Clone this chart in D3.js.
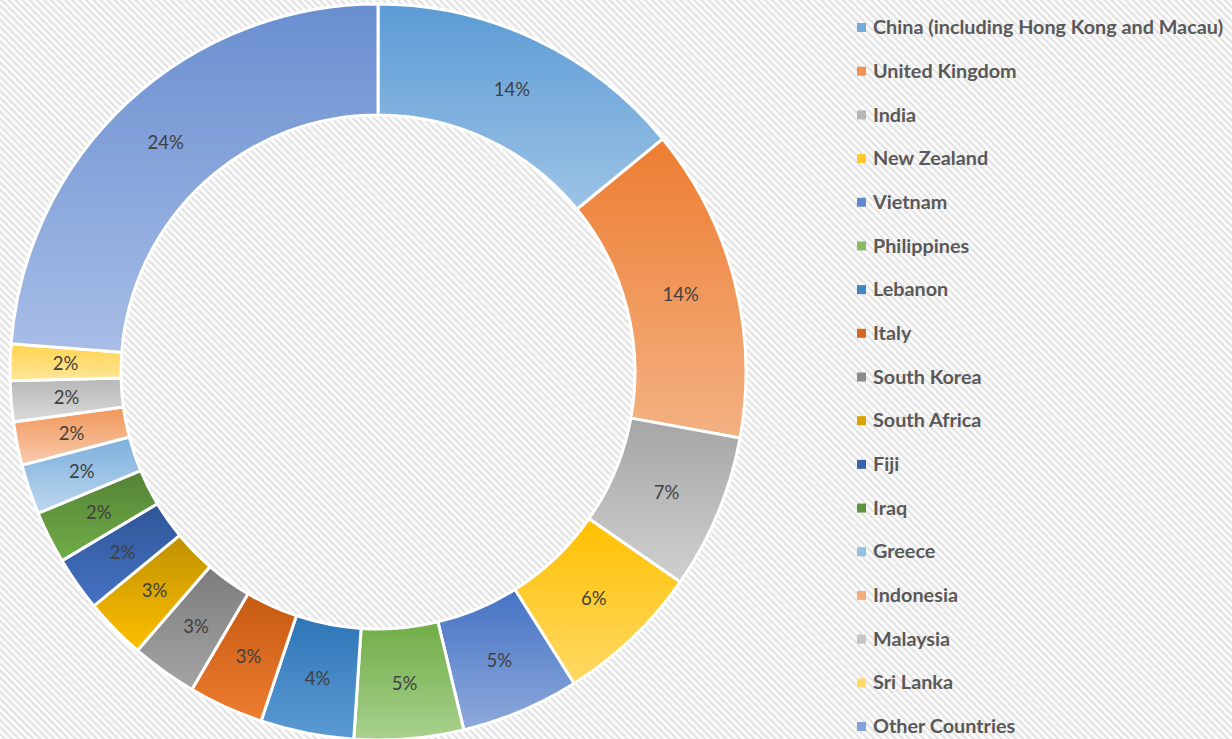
<!DOCTYPE html>
<html>
<head>
<meta charset="utf-8">
<script src="https://cdn.jsdelivr.net/npm/d3@7"></script>
<style>
  body { margin: 0; background: #fff; }
  svg { display: block; }
</style>
</head>
<body>
<div id="chart"></div>
<script>
// DATA
const countries = [
    "China (including Hong Kong and Macau)", "United Kingdom", "India", "New Zealand",
    "Vietnam", "Philippines", "Lebanon", "Italy", "South Korea", "South Africa",
    "Fiji", "Iraq", "Greece", "Indonesia", "Malaysia", "Sri Lanka", "Other Countries"
];
const shares = [14.1, 13.8, 6.8, 6.4, 5.2, 4.8, 4.1, 3.3, 2.9, 2.7, 2.4, 2.3, 2.2, 1.9, 1.8, 1.6, 23.8];

// gradient ends for each slice (top -> bottom)
const topColors = [
    "#5B9BD5", "#ED7D31", "#A5A5A5", "#FFC000", "#4472C4", "#70AD47", "#2E75B6", "#C55A11",
    "#7B7B7B", "#BF9000", "#2F5597", "#548235", "#7CAFDD", "#F1975A", "#B7B7B7", "#FFD34D", "#698ED0"
];
const bottomColors = [
    "#9DC3E6", "#F4B183", "#D0D0D0", "#FFD966", "#8FAADC", "#A9D18E", "#5B9BD5", "#ED7D31",
    "#A5A5A5", "#FFC000", "#4472C4", "#70AD47", "#BDD7EE", "#F8CBAD", "#DBDBDB", "#FFE699", "#A8BDE6"
];

const W = 1232, H = 739;
const cx = 378, cy = 372;
const outerR = 368, innerR = 257;

const svg = d3.select("#chart").append("svg")
    .attr("width", W)
    .attr("height", H);

const defs = svg.append("defs");

// hatched background
const hatch = defs.append("pattern")
    .attr("id", "hatch")
    .attr("width", 5)
    .attr("height", 5)
    .attr("patternUnits", "userSpaceOnUse")
    .attr("patternTransform", "rotate(-45)");
hatch.append("rect").attr("width", 5).attr("height", 5).attr("fill", "#fbfbfb");
hatch.append("rect").attr("width", 2).attr("height", 5).attr("fill", "#e2e2e2");

svg.append("rect")
    .attr("width", W)
    .attr("height", H)
    .attr("fill", "url(#hatch)");

const data = countries.map((c, i) => ({ name: c, value: shares[i], top: topColors[i], bottom: bottomColors[i] }));
const total = d3.sum(shares);

data.forEach((d, i) => {
    const grad = defs.append("linearGradient")
        .attr("id", "grad" + i)
        .attr("x1", 0).attr("y1", 0)
        .attr("x2", 0).attr("y2", 1);
    grad.append("stop").attr("offset", "0%").attr("stop-color", d.top);
    grad.append("stop").attr("offset", "100%").attr("stop-color", d.bottom);
});

const pie = d3.pie()
    .value(d => d.value)
    .sort(null);

const arc = d3.arc()
    .innerRadius(innerR)
    .outerRadius(outerR);

const labelArc = d3.arc()
    .innerRadius((innerR + outerR) / 2)
    .outerRadius((innerR + outerR) / 2);

const g = svg.append("g")
    .attr("transform", `translate(${cx},${cy})`);

const arcs = pie(data);

g.selectAll(".slice")
    .data(arcs)
    .join("path")
    .attr("class", "slice")
    .attr("d", arc)
    .attr("fill", (d, i) => `url(#grad${i})`)
    .attr("stroke", "#fff")
    .attr("stroke-width", 3)
    .attr("stroke-linejoin", "round");

g.selectAll(".pct")
    .data(arcs)
    .join("text")
    .attr("class", "pct")
    .attr("transform", d => `translate(${labelArc.centroid(d)})`)
    .attr("text-anchor", "middle")
    .attr("dy", "0.36em")
    .attr("font-family", "Lato, 'Open Sans', sans-serif")
    .attr("font-size", "18.5px")
    .attr("fill", "#404040")
    .text(d => Math.round(d.data.value / total * 100) + "%");

// LEGEND
const yLegend = d3.scalePoint()
    .domain(countries)
    .range([27, 726]);

const legendItems = svg.append("g")
    .attr("class", "legend")
    .selectAll(".legend-item")
    .data(data)
    .join("g")
    .attr("class", "legend-item")
    .attr("transform", d => `translate(857, ${yLegend(d.name)})`);

legendItems.append("rect")
    .attr("x", 0)
    .attr("y", -4)
    .attr("width", 9)
    .attr("height", 9)
    .attr("fill", d => d3.interpolateRgb(d.top, d.bottom)(0.4));

legendItems.append("text")
    .attr("x", 16)
    .attr("dy", "0.36em")
    .attr("font-family", "Lato, 'Open Sans', sans-serif")
    .attr("font-weight", "bold")
    .attr("font-size", "19.8px")
    .attr("fill", "#595959")
    .text(d => d.name);
</script>
</body>
</html>
